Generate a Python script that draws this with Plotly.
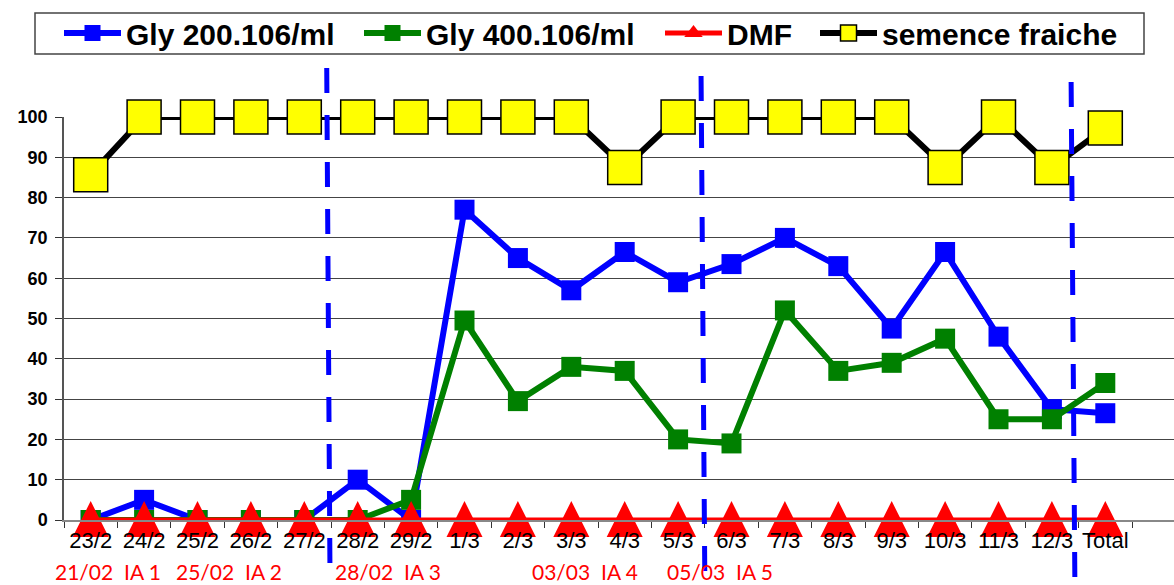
import plotly.graph_objects as go

# ---------------- data ----------------
categories = ["23/2", "24/2", "25/2", "26/2", "27/2", "28/2", "29/2", "1/3", "2/3", "3/3",
              "4/3", "5/3", "6/3", "7/3", "8/3", "9/3", "10/3", "11/3", "12/3", "Total"]
gly200 = [0, 5, 0, 0, 0, 10, 0, 77, 65, 57, 66.5, 59, 63.5, 70, 63, 47.5, 66.5, 45.5, 27.5, 26.5]
gly400 = [0, 0, 0, 0, 0, 0, 5, 49.5, 29.5, 38, 37, 20, 19, 52, 37, 39, 45, 25, 25, 34]
dmf = [0, 0, 0, 0, 0, 0, 0, 0, 0, 0, 0, 0, 0, 0, 0, 0, 0, 0, 0, 0]
semence = [85.7, 100, 100, 100, 100, 100, 100, 100, 100, 100, 87.5, 100, 100, 100, 100, 100, 87.5, 100, 87.5, 97.3]
series_names = ["Gly 200.106/ml", "Gly 400.106/ml", "DMF", "semence fraiche"]
event_labels = ["21/02", "IA 1", "25/02", "IA 2", "28/02", "IA 3", "03/03", "IA 4", "05/03", "IA 5"]

# ---------------- layout geometry ----------------
W, H = 1174, 585
L, R, T, B = 64, 0, 117, 65
PW, PH = W - L - R, H - T - B
X0 = -0.5
STEP = 53.4
XMAX = X0 + PW / STEP


def xpx_to_paper(px):
    return (px - L) / PW


def ypx_to_paper(py):
    return (H - B - py) / PH


def xdata_to_paper(x):
    return (x - X0) / (XMAX - X0)


TRI = 36  # triangle marker size

fig = go.Figure()
fig.add_trace(go.Scatter(x=categories, y=gly200, name=series_names[0], mode="lines+markers",
                         line=dict(color="#0000FF", width=6),
                         marker=dict(symbol="square", size=20, color="#0000FF"),
                         cliponaxis=False, legend="legend"))
fig.add_trace(go.Scatter(x=categories, y=gly400, name=series_names[1], mode="lines+markers",
                         line=dict(color="#008000", width=6),
                         marker=dict(symbol="square", size=20, color="#008000"),
                         cliponaxis=False, legend="legend2"))
fig.add_trace(go.Scatter(x=categories, y=dmf, name=series_names[2], mode="lines+markers",
                         line=dict(color="#FF0000", width=5),
                         marker=dict(symbol="arrow-down", angle=180, standoff=TRI / 2 + 1,
                                     size=TRI, color="#FF0000"),
                         cliponaxis=False, showlegend=False))
# legend entry for DMF (no data points, legend key only)
fig.add_trace(go.Scatter(x=[None], y=[None], name=series_names[2], mode="lines+markers",
                         line=dict(color="#FF0000", width=5),
                         marker=dict(symbol="triangle-up", size=16, color="#FF0000"),
                         legend="legend3"))
fig.add_trace(go.Scatter(x=categories, y=semence, name=series_names[3], mode="lines+markers",
                         line=dict(color="#000000", width=6),
                         marker=dict(symbol="square", size=34, color="#FFFF00",
                                     line=dict(color="#000000", width=1.5)),
                         cliponaxis=False, legend="legend4"))

# dashed vertical dividers (positions between categories)
divider_top = [(4.42, 68), (11.43, 76), (18.36, 82)]
divider_bottom = [(4.48, 566), (11.50, 577), (18.43, 581)]
for (xt, yt), (xb, yb) in zip(divider_top, divider_bottom):
    fig.add_shape(type="line", xref="paper", yref="paper",
                  x0=xdata_to_paper(xt), y0=ypx_to_paper(yt),
                  x1=xdata_to_paper(xb), y1=ypx_to_paper(yb),
                  line=dict(color="#0000FF", width=5, dash="25px,22px"), layer="above")

# legend frame
fig.add_shape(type="rect", xref="paper", yref="paper",
              x0=xpx_to_paper(35), x1=xpx_to_paper(1144),
              y0=ypx_to_paper(54), y1=ypx_to_paper(13),
              line=dict(color="#444444", width=1.5), fillcolor="white", layer="below")

# red event labels below the axis (left edges in px)
event_left_px = [53, 122, 174, 243, 333, 402, 530, 599, 665, 734]
for txt, lx in zip(event_labels, event_left_px):
    fig.add_annotation(xref="paper", yref="paper", x=xpx_to_paper(lx), y=ypx_to_paper(571),
                       xanchor="left", yanchor="middle", text=txt, showarrow=False,
                       font=dict(family="Lato", size=21, color="#FF0000"))

legend_font = dict(family="Liberation Sans", size=30, color="#000000", weight="bold")
legend_text_start = [127, 427, 728, 883]
ITEMW = 57
legend_common = dict(orientation="h", xanchor="left", yanchor="middle",
                     y=ypx_to_paper(33), bgcolor="rgba(0,0,0,0)", borderwidth=0,
                     font=legend_font, itemwidth=ITEMW)
fig.update_layout(
    legend=dict(x=xpx_to_paper(legend_text_start[0] - ITEMW - 11), **legend_common),
    legend2=dict(x=xpx_to_paper(legend_text_start[1] - ITEMW - 11), **legend_common),
    legend3=dict(x=xpx_to_paper(legend_text_start[2] - ITEMW - 11), **legend_common),
    legend4=dict(x=xpx_to_paper(legend_text_start[3] - ITEMW - 11), **legend_common),
)

fig.update_layout(
    width=W, height=H,
    margin=dict(l=L, r=R, t=T, b=B, pad=0),
    paper_bgcolor="white", plot_bgcolor="white",
    showlegend=True,
    xaxis=dict(type="category", categoryorder="array", categoryarray=categories,
               range=[X0, XMAX], tickson="boundaries", ticks="outside", ticklen=6,
               tickcolor="#333333", showline=True, linecolor="#888888", linewidth=2,
               showgrid=False, zeroline=False, tickangle=0,
               tickfont=dict(family="Liberation Sans", size=22, color="#000000")),
    yaxis=dict(range=[0, 100], dtick=10, ticks="outside", ticklen=7, tickcolor="#333333",
               showline=True, linecolor="#555555", linewidth=1.5, ticklabelstandoff=4,
               showgrid=True, gridcolor="#444444", gridwidth=1, zeroline=False,
               tickfont=dict(family="Liberation Sans", size=18, color="#000000", weight="bold")),
)

fig.write_html("out.html")
